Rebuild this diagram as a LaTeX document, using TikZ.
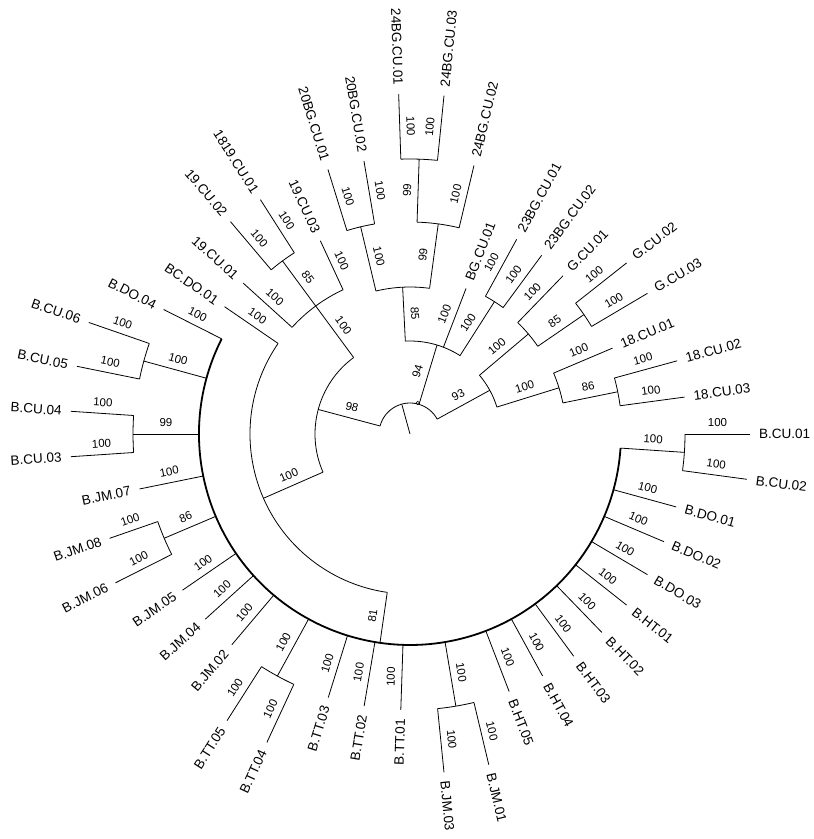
\documentclass[tikz,border=0pt]{standalone}
\usepackage{fontspec}
\setmainfont{Liberation Sans}
\tikzset{
  edge/.style={line width=0.8pt, black, line cap=butt},
  thickedge/.style={line width=1.8pt, black},
  bs/.style={font=\fontsize{11.5}{12}\selectfont, inner sep=0pt},
  leaf/.style={font=\fontsize{13.5}{14}\selectfont, inner sep=0pt},
}
\newcommand\branch[5]{%
  \coordinate (#1b) at (#2:#3);
  \coordinate (#1) at (#2:#4);
  \draw[edge] (#1b) -- (#1);
  \pgfmathsetmacro\myrot{#2-180*(cos(#2)<0)}%
  \pgfmathsetmacro\myoff{\myrot+90}%
  \pgfmathsetmacro\mymid{(#3+#4)/2}%
  \path (#2:\mymid) ++(\myoff:11) node[bs,rotate=\myrot] (#1l) {#5};
}
\newcommand\leaflabel[3]{%
  \pgfmathsetmacro\myrot{#2-180*(cos(#2)<0)}%
  \pgfmathtruncatemacro\isleft{cos(#2)<0}%
  \ifnum\isleft=1
    \path (#1) ++(#2:9) node[leaf,rotate=\myrot,anchor=east] (#1t) {#3};
  \else
    \path (#1) ++(#2:9) node[leaf,rotate=\myrot,anchor=west] (#1t) {#3};
  \fi
}
\newcommand\nodearc[5][edge]{%
  \draw[#1] (#2) arc[start angle=#3, end angle=#4, radius=#5];
}
\begin{document}
\begin{tikzpicture}[x=1pt,y=1pt]
\useasboundingbox (-410,-405) rectangle (404,434);
\coordinate (root) at (0,0);
\coordinate (rootend) at (105.4:30.5);
\draw[edge] (root) -- (rootend);
% root children
\branch{N98}{165.03}{31}{95}{98}
\branch{N94}{73.09}{31}{93}{94}
\branch{N93}{28.72}{31}{91}{93}
\nodearc{N93b}{28.72}{165.03}{31}
\node[circle,draw,line width=0.6pt,inner sep=0pt,minimum size=3.5pt] (rootmark) at (76:32) {};
% N98
\branch{X}{126.38}{95}{159}{100}
\branch{Nb}{203.68}{95}{160}{100}
\nodearc{Xb}{126.38}{203.68}{95}
% X
\branch{L29}{137.87}{159}{225}{100}
\branch{P19}{126.38}{159}{215}{85}
\branch{L32}{114.89}{159}{213}{100}
\nodearc{L32b}{114.89}{137.87}{159}
\branch{L30}{130.21}{215}{278}{100}
\branch{L31}{122.55}{215}{278}{100}
\nodearc{L31b}{122.55}{130.21}{215}
% Nb
\branch{L28}{145.53}{160}{225}{100}
\branch{B}{261.82}{160}{211}{81}
\nodearc{L28b}{145.53}{261.82}{160}
% B clade
\branch{L27}{153.19}{211}{276}{100}
\branch{C56}{164.68}{211}{276}{100}
\branch{C34}{180}{211}{277}{99}
\branch{L22}{191.49}{211}{276}{100}
\branch{C86}{202.98}{211}{267}{86}
\branch{L19}{214.47}{211}{276}{100}
\branch{L18}{222.13}{211}{276}{100}
\branch{L17}{229.79}{211}{276}{100}
\branch{CTT}{241.28}{211}{276}{100}
\branch{L14}{252.77}{211}{276}{100}
\branch{L13}{260.43}{211}{276}{100}
\branch{L12}{268.09}{211}{276}{100}
\branch{CJM}{279.57}{211}{276}{100}
\branch{L9}{291.06}{211}{276}{100}
\branch{L8}{298.72}{211}{276}{100}
\branch{L7}{306.38}{211}{276}{100}
\branch{L6}{314.04}{211}{276}{100}
\branch{L5}{321.70}{211}{276}{100}
\branch{L4}{329.36}{211}{276}{100}
\branch{L3}{337.02}{211}{276}{100}
\branch{L2}{344.68}{211}{276}{100}
\branch{CCU}{356.17}{211}{275}{100}
\nodearc[thickedge]{L27b}{153.19}{356.17}{211}
% B pairs
\branch{L25}{168.51}{276}{340}{100}
\branch{L26}{160.85}{276}{340}{100}
\nodearc{L26b}{160.85}{168.51}{276}
\branch{L23}{183.83}{277}{340}{100}
\branch{L24}{176.17}{277}{340}{100}
\nodearc{L24b}{176.17}{183.83}{277}
\branch{L20}{206.81}{267}{330}{100}
\branch{L21}{199.15}{267}{318}{100}
\nodearc{L21b}{199.15}{206.81}{267}
\branch{L15}{245.11}{276}{340}{100}
\branch{L16}{237.45}{276}{340}{100}
\nodearc{L16b}{237.45}{245.11}{276}
\branch{L10}{283.40}{276}{340}{100}
\branch{L11}{275.74}{276}{340}{100}
\nodearc{L11b}{275.74}{283.40}{276}
\branch{L0}{360}{275}{340}{100}
\branch{L1}{352.34}{275}{340}{100}
\nodearc{L1b}{352.34}{360}{275}
% N94
\branch{N85}{92.87}{93}{147}{85}
\branch{L38}{68.94}{93}{156}{100}
\branch{C23}{57.45}{93}{157}{100}
\nodearc{C23b}{57.45}{92.87}{93}
\branch{C20}{103.40}{147}{213}{100}
\branch{C24}{82.34}{147}{212}{99}
\nodearc{C24b}{82.34}{103.40}{147}
\branch{L33}{107.23}{213}{277}{100}
\branch{L34}{99.57}{213}{277}{100}
\nodearc{L34b}{99.57}{107.23}{213}
\branch{P24}{88.09}{212}{275}{99}
\branch{L37}{76.60}{212}{276}{100}
\nodearc{L37b}{76.60}{88.09}{212}
\branch{L35}{91.91}{275}{340}{100}
\branch{L36}{84.26}{275}{340}{100}
\nodearc{L36b}{84.26}{91.91}{275}
\branch{L39}{61.28}{157}{222}{100}
\branch{L40}{53.62}{157}{222}{100}
\nodearc{L40b}{53.62}{61.28}{157}
% N93
\branch{CG}{40.21}{91}{155}{100}
\branch{C18}{17.23}{91}{156}{100}
\nodearc{C18b}{17.23}{40.21}{91}
\branch{L41}{45.96}{155}{220}{100}
\branch{G85}{34.47}{155}{211}{85}
\nodearc{G85b}{34.47}{45.96}{155}
\branch{L42}{38.30}{211}{276}{100}
\branch{L43}{30.64}{211}{276}{100}
\nodearc{L43b}{30.64}{38.30}{211}
\branch{L44}{22.98}{156}{220}{100}
\branch{Q86}{11.49}{156}{212}{86}
\nodearc{Q86b}{11.49}{22.98}{156}
\branch{L45}{15.32}{212}{277}{100}
\branch{L46}{7.66}{212}{277}{100}
\nodearc{L46b}{7.66}{15.32}{212}
% leaf labels
\leaflabel{L0}{360}{B.CU.01}
\leaflabel{L1}{352.34}{B.CU.02}
\leaflabel{L2}{344.68}{B.DO.01}
\leaflabel{L3}{337.02}{B.DO.02}
\leaflabel{L4}{329.36}{B.DO.03}
\leaflabel{L5}{321.70}{B.HT.01}
\leaflabel{L6}{314.04}{B.HT.02}
\leaflabel{L7}{306.38}{B.HT.03}
\leaflabel{L8}{298.72}{B.HT.04}
\leaflabel{L9}{291.06}{B.HT.05}
\leaflabel{L10}{283.40}{B.JM.01}
\leaflabel{L11}{275.74}{B.JM.03}
\leaflabel{L12}{268.09}{B.TT.01}
\leaflabel{L13}{260.43}{B.TT.02}
\leaflabel{L14}{252.77}{B.TT.03}
\leaflabel{L15}{245.11}{B.TT.04}
\leaflabel{L16}{237.45}{B.TT.05}
\leaflabel{L17}{229.79}{B.JM.02}
\leaflabel{L18}{222.13}{B.JM.04}
\leaflabel{L19}{214.47}{B.JM.05}
\leaflabel{L20}{206.81}{B.JM.06}
\leaflabel{L21}{199.15}{B.JM.08}
\leaflabel{L22}{191.49}{B.JM.07}
\leaflabel{L23}{183.83}{B.CU.03}
\leaflabel{L24}{176.17}{B.CU.04}
\leaflabel{L25}{168.51}{B.CU.05}
\leaflabel{L26}{160.85}{B.CU.06}
\leaflabel{L27}{153.19}{B.DO.04}
\leaflabel{L28}{145.53}{BC.DO.01}
\leaflabel{L29}{137.87}{19.CU.01}
\leaflabel{L30}{130.21}{19.CU.02}
\leaflabel{L31}{122.55}{1819.CU.01}
\leaflabel{L32}{114.89}{19.CU.03}
\leaflabel{L33}{107.23}{20BG.CU.01}
\leaflabel{L34}{99.57}{20BG.CU.02}
\leaflabel{L35}{91.91}{24BG.CU.01}
\leaflabel{L36}{84.26}{24BG.CU.03}
\leaflabel{L37}{76.60}{24BG.CU.02}
\leaflabel{L38}{68.94}{BG.CU.01}
\leaflabel{L39}{61.28}{23BG.CU.01}
\leaflabel{L40}{53.62}{23BG.CU.02}
\leaflabel{L41}{45.96}{G.CU.01}
\leaflabel{L42}{38.30}{G.CU.02}
\leaflabel{L43}{30.64}{G.CU.03}
\leaflabel{L44}{22.98}{18.CU.01}
\leaflabel{L45}{15.32}{18.CU.02}
\leaflabel{L46}{7.66}{18.CU.03}
\end{tikzpicture}
\end{document}
